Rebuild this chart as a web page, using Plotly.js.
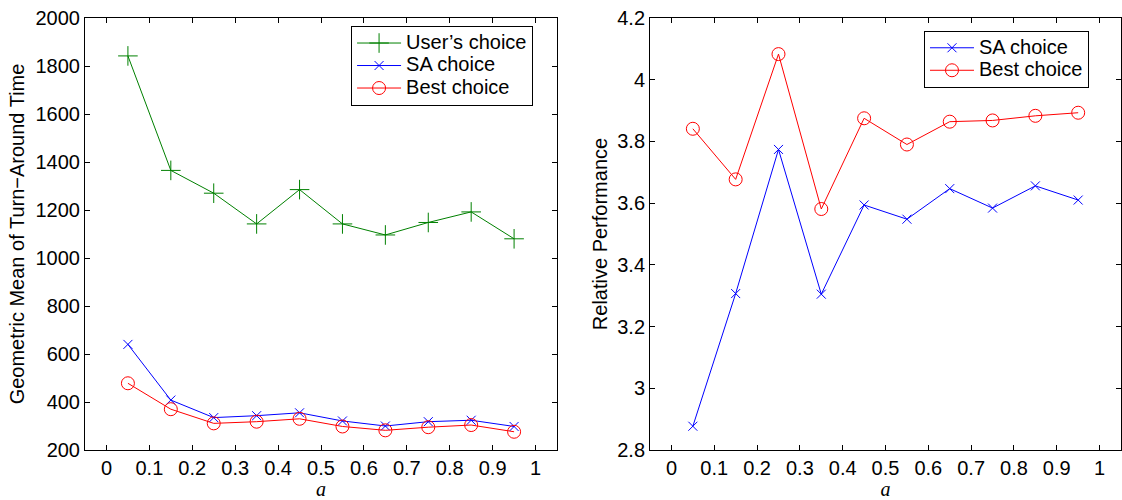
<!DOCTYPE html>
<html>
<head>
<meta charset="utf-8">
<script src="https://cdn.plot.ly/plotly-3.0.1.min.js"></script>
<style>html,body{margin:0;padding:0;background:#fff}#chart{width:1122px;height:500px}</style>
</head>
<body>
<div id="chart"></div>
<script>
// Data
const alphaValues = [0.05, 0.15, 0.25, 0.35, 0.45, 0.55, 0.65, 0.75, 0.85, 0.95];
const userChoiceTAT = [1842, 1365, 1270, 1142, 1285, 1142, 1096, 1148, 1192, 1080];
const saChoiceTAT   = [640, 408, 335, 343, 355, 321, 300, 318, 324, 298];
const bestChoiceTAT = [478, 370, 311, 318, 330, 298, 282, 295, 304, 276];
const saChoicePerf   = [2.877, 3.307, 3.774, 3.305, 3.594, 3.548, 3.647, 3.584, 3.656, 3.610];
const bestChoicePerf = [3.841, 3.677, 4.083, 3.581, 3.875, 3.790, 3.864, 3.868, 3.883, 3.893];
const xTickVals = [0, 0.1, 0.2, 0.3, 0.4, 0.5, 0.6, 0.7, 0.8, 0.9, 1];
const xTickText = ['0', '0.1', '0.2', '0.3', '0.4', '0.5', '0.6', '0.7', '0.8', '0.9', '1'];
const leftYTicks = [200, 400, 600, 800, 1000, 1200, 1400, 1600, 1800, 2000];
const rightYTicks = [2.8, 3, 3.2, 3.4, 3.6, 3.8, 4, 4.2];
const rightYText = ['2.8', '3', '3.2', '3.4', '3.6', '3.8', '4', '4.2'];
const seriesNames = ["User\u2019s choice", 'SA choice', 'Best choice'];

const GREEN = '#008000', BLUE = '#0000ff', RED = '#ff0000';
const FONT = 'Liberation Sans, Arial, Helvetica, sans-serif';
const FS = 20;
const big = s => '<span style="font-size:' + FS + 'px">' + s + '</span>';

const traces = [
  {x: alphaValues, y: userChoiceTAT, name: big(seriesNames[0]), mode: 'lines+markers',
   line: {color: GREEN, width: 1}, marker: {symbol: 'cross-thin-open', size: 14, line: {color: GREEN, width: 1}},
   xaxis: 'x', yaxis: 'y', legend: 'legend'},
  {x: alphaValues, y: saChoiceTAT, name: big(seriesNames[1]), mode: 'lines+markers',
   line: {color: BLUE, width: 1}, marker: {symbol: 'x-thin-open', size: 9, line: {color: BLUE, width: 1}},
   xaxis: 'x', yaxis: 'y', legend: 'legend'},
  {x: alphaValues, y: bestChoiceTAT, name: big(seriesNames[2]), mode: 'lines+markers',
   line: {color: RED, width: 1}, marker: {symbol: 'circle-open', size: 13, line: {color: RED, width: 1}},
   xaxis: 'x', yaxis: 'y', legend: 'legend'},
  {x: alphaValues, y: saChoicePerf, name: big(seriesNames[1]), mode: 'lines+markers',
   line: {color: BLUE, width: 1}, marker: {symbol: 'x-thin-open', size: 9, line: {color: BLUE, width: 1}},
   xaxis: 'x2', yaxis: 'y2', legend: 'legend2'},
  {x: alphaValues, y: bestChoicePerf, name: big(seriesNames[2]), mode: 'lines+markers',
   line: {color: RED, width: 1}, marker: {symbol: 'circle-open', size: 13, line: {color: RED, width: 1}},
   xaxis: 'x2', yaxis: 'y2', legend: 'legend2'}
];

const axisCommon = {
  showline: true, mirror: 'ticks', linecolor: '#000', linewidth: 1,
  ticks: 'inside', ticklen: 5, tickcolor: '#000', tickwidth: 1,
  showgrid: false, zeroline: false,
  tickfont: {family: FONT, size: FS, color: '#000'}
};

const xTitle = {text: 'a', font: {family: 'Liberation Serif, Times New Roman, serif', size: 20, color: '#000', style: 'italic'}, standoff: 4};

const legendCommon = {
  bordercolor: '#000', borderwidth: 1, bgcolor: '#fff',
  font: {family: FONT, size: 15, color: '#000'}, tracegroupgap: 0, itemwidth: 44
};

const layout = {
  width: 1122, height: 500,
  margin: {l: 85, r: 1, t: 18, b: 50},
  paper_bgcolor: '#fff', plot_bgcolor: '#fff',
  showlegend: true,
  xaxis: Object.assign({}, axisCommon, {domain: [0, 0.4556], range: [-0.05, 1.05],
    tickvals: xTickVals, ticktext: xTickText, anchor: 'y', title: xTitle}),
  yaxis: Object.assign({}, axisCommon, {domain: [0, 1], range: [200, 2000],
    tickvals: leftYTicks, anchor: 'x',
    title: {text: 'Geometric Mean of Turn\u2212Around Time', font: {family: FONT, size: FS, color: '#000'}, standoff: 5}}),
  xaxis2: Object.assign({}, axisCommon, {domain: [0.5454, 1], range: [-0.05, 1.05],
    tickvals: xTickVals, ticktext: xTickText, anchor: 'y2', title: xTitle}),
  yaxis2: Object.assign({}, axisCommon, {domain: [0, 1], range: [2.8, 4.2],
    tickvals: rightYTicks, ticktext: rightYText, anchor: 'x2',
    title: {text: 'Relative Performance', font: {family: FONT, size: FS, color: '#000'}, standoff: 4}}),
  legend: Object.assign({}, legendCommon, {x: 0.4325, xanchor: 'right', y: 0.982, yanchor: 'top'}),
  legend2: Object.assign({}, legendCommon, {x: 0.9691, xanchor: 'right', y: 0.971, yanchor: 'top'})
};

Plotly.newPlot('chart', traces, layout, {displayModeBar: false, staticPlot: true});
</script>
</body>
</html>
